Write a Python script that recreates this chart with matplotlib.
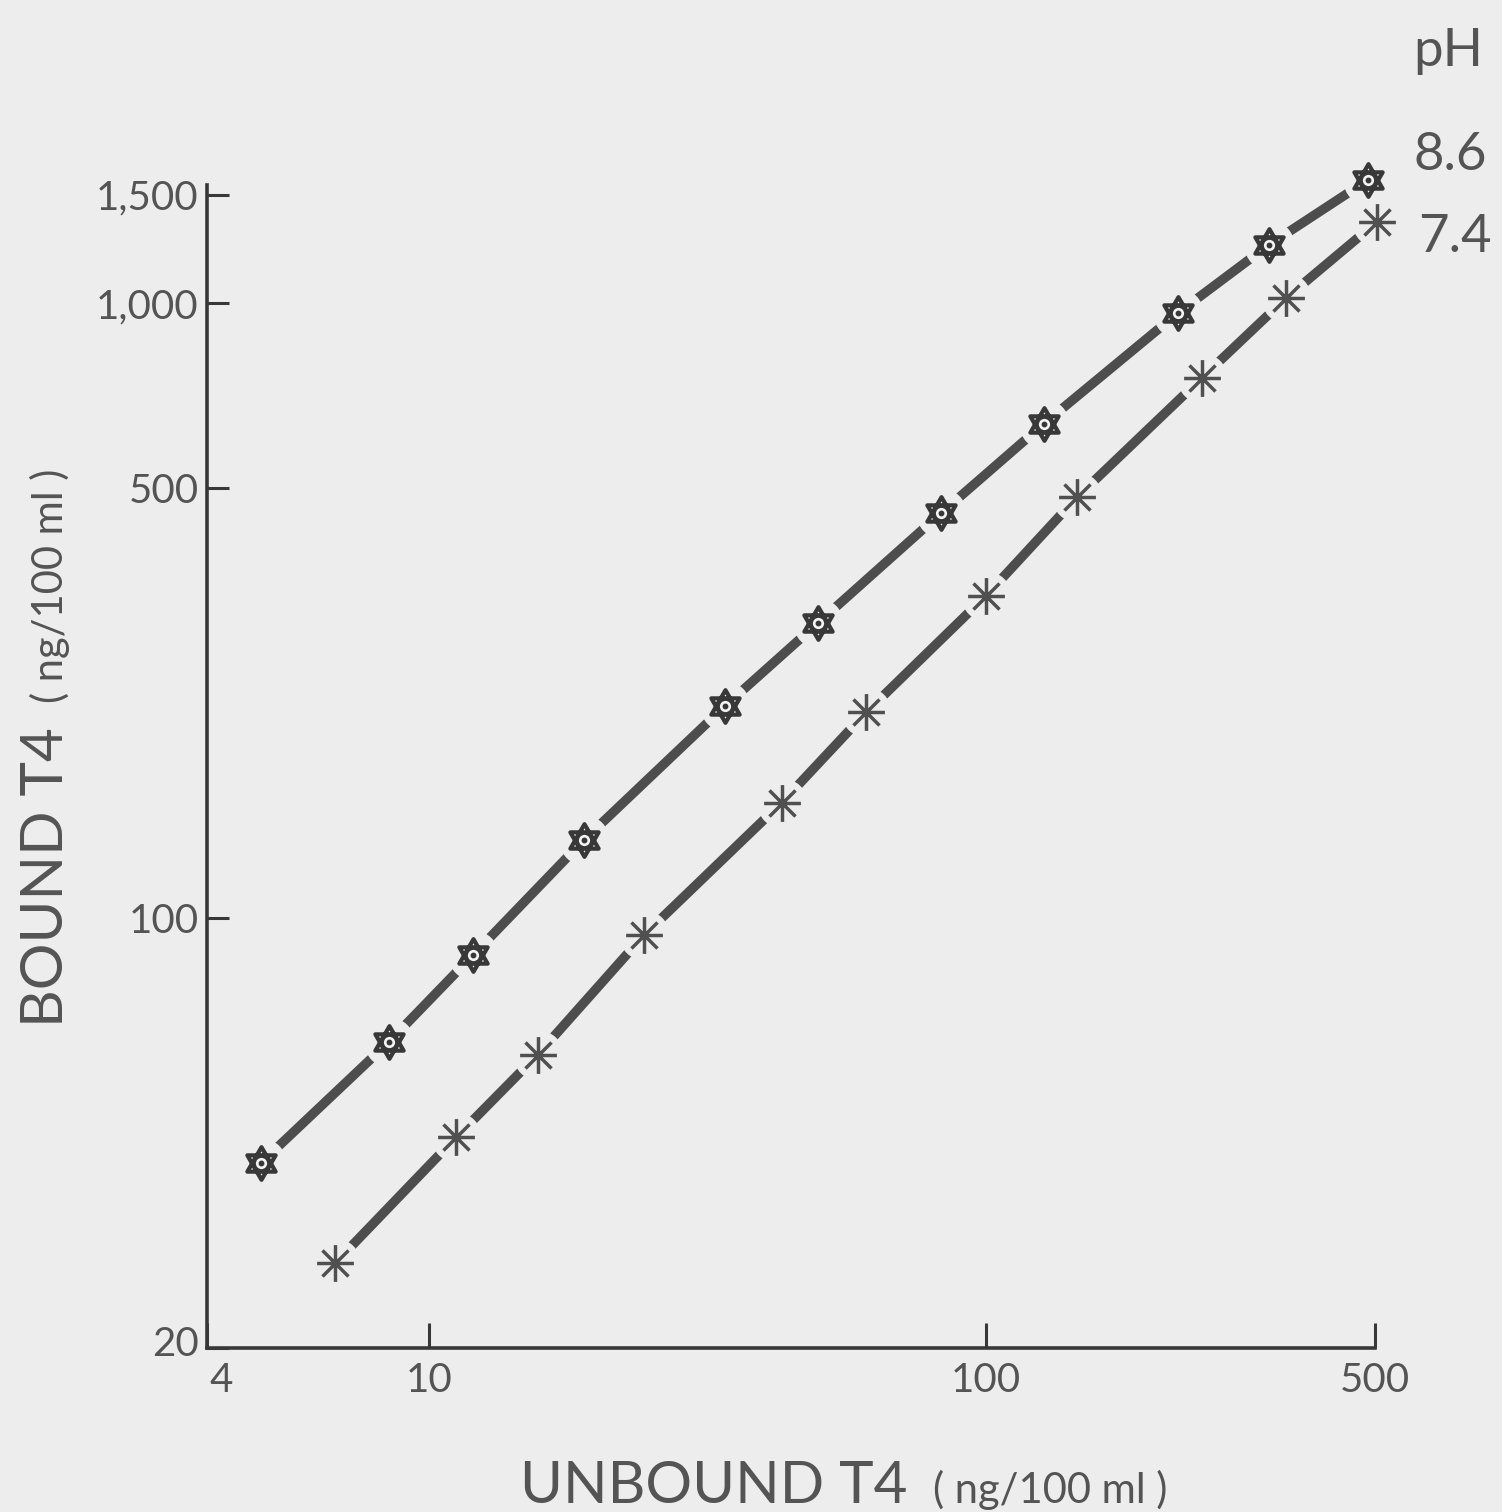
import numpy as np
import matplotlib
matplotlib.use("Agg")
import matplotlib.pyplot as plt
import matplotlib.transforms as mtransforms
from matplotlib.path import Path

# Unbound vs bound T4 (ng/100 ml) at two pH values
unbound_ph86 = [5.0, 8.5, 12, 19, 34, 50, 83, 127, 221, 322, 485]
bound_ph86 = [40, 63, 87, 134, 221, 302, 455, 636, 963, 1243, 1585]

unbound_ph74 = [6.8, 11.2, 15.7, 24.4, 43, 61, 100, 146, 244, 346, 503]
bound_ph74 = [27.5, 44, 60, 94, 154, 216, 334, 484, 755, 1019, 1354]

series_labels = ["8.6", "7.4"]
x_ticks = [4, 10, 100, 500]
x_tick_labels = ["4", "10", "100", "500"]
y_ticks = [20, 100, 500, 1000, 1500]
y_tick_labels = ["20", "100", "500", "1,000", "1,500"]

BG = "#ededed"
INK = "#383838"
TXT = "#545454"
LINE = "#4d4d4d"
FONT = ["Lato", "DejaVu Sans"]

plt.rcParams["font.family"] = FONT

# Star of David outline: two overlapping triangles
a = np.deg2rad([90, 210, 330])
up = np.column_stack([np.cos(a), np.sin(a)])
down = -up
hex_verts = np.vstack([up, up[:1], down, down[:1]])
hex_codes = [Path.MOVETO, Path.LINETO, Path.LINETO, Path.CLOSEPOLY] * 2
hexagram = Path(hex_verts, hex_codes)

# Eight-spoke asterisk
ang = np.deg2rad([0, 45, 90, 135])
ast_verts = []
ast_codes = []
for t in ang:
    ast_verts += [(np.cos(t), np.sin(t)), (-np.cos(t), -np.sin(t))]
    ast_codes += [Path.MOVETO, Path.LINETO]
asterisk = Path(np.array(ast_verts), ast_codes)

fig = plt.figure(figsize=(15.02, 15.12), dpi=100, facecolor=BG)
ax = fig.add_axes([0.1378, 0.1085, 0.9155 - 0.1378, 0.8776 - 0.1085])
ax.set_facecolor(BG)
ax.set_xscale("log")
ax.set_yscale("log")
ax.set_xlim(4, 500)
ax.set_ylim(20, 1556)

for x, y in [(unbound_ph86, bound_ph86), (unbound_ph74, bound_ph74)]:
    ax.plot(x, y, color=LINE, lw=6.8, solid_capstyle="butt", zorder=2,
            clip_on=False)
    # clear a gap in the line around every point
    ax.plot(x, y, ls="none", marker="o", ms=36, mfc=BG, mec="none",
            zorder=3, clip_on=False)

# pH 8.6 markers
ax.plot(unbound_ph86, bound_ph86, ls="none", marker=hexagram, ms=23.5,
        mfc="none", mec=INK, mew=3.0, zorder=4, clip_on=False)
ax.plot(unbound_ph86, bound_ph86, ls="none", marker="o", ms=10.5,
        mfc="#f4f4f4", mec=INK, mew=2.4, zorder=5, clip_on=False)
ax.plot(unbound_ph86, bound_ph86, ls="none", marker="o", ms=3.2,
        mfc=INK, mec=INK, zorder=6, clip_on=False)

# pH 7.4 markers
ax.plot(unbound_ph74, bound_ph74, ls="none", marker=asterisk, ms=26.5,
        mfc="none", mec="#505050", mew=2.5, zorder=4, clip_on=False)

for s in ["top", "right"]:
    ax.spines[s].set_visible(False)
for s in ["left", "bottom"]:
    ax.spines[s].set_linewidth(2.6)
    ax.spines[s].set_color(INK)

ax.minorticks_off()
ax.set_xticks(x_ticks)
ax.set_xticklabels(x_tick_labels)
ax.set_yticks(y_ticks)
ax.set_yticklabels(y_tick_labels)
ax.tick_params(axis="both", which="major", direction="in", width=2.2,
               color=INK, labelcolor=TXT, labelsize=29)
ax.tick_params(axis="x", length=18, pad=10)
ax.tick_params(axis="y", length=16, pad=6)

# nudge the corner labels away from the axis origin
first_x = ax.get_xticklabels()[0]
first_x.set_transform(first_x.get_transform() +
                      mtransforms.ScaledTranslation(14 / 100, 0,
                                                    fig.dpi_scale_trans))
first_y = ax.get_yticklabels()[0]
first_y.set_transform(first_y.get_transform() +
                      mtransforms.ScaledTranslation(0, 7 / 100,
                                                    fig.dpi_scale_trans))

W, H = 1502, 1512

def fx(px):
    return px / W

def fy(py):
    return 1 - py / H

renderer = fig.canvas.get_renderer()

# x-axis title: large name followed by the smaller unit
xt = fig.text(fx(520), fy(1503), "UNBOUND T4", ha="left", va="baseline",
              fontsize=42, color=TXT)
xb = xt.get_window_extent(renderer)
fig.text(fx(xb.x1 + 26), fy(1503), "( ng/100 ml )", ha="left",
         va="baseline", fontsize=30, color=TXT)

# y-axis title, read bottom to top
yt = fig.text(fx(63), fy(1027), "BOUND T4", rotation=90,
              rotation_mode="anchor", ha="left", va="baseline",
              fontsize=42, color=TXT)
yb = yt.get_window_extent(renderer)
fig.text(fx(63), (yb.y1 + 24) / H, "( ng/100 ml )", rotation=90,
         rotation_mode="anchor", ha="left", va="baseline", fontsize=30,
         color=TXT)

# series key at the right-hand end of the curves
fig.text(fx(1413), fy(66), "pH", ha="left", va="baseline", fontsize=38,
         color=TXT)
fig.text(fx(1413), fy(170), series_labels[0], ha="left", va="baseline",
         fontsize=38, color=TXT)
fig.text(fx(1418), fy(252), series_labels[1], ha="left", va="baseline",
         fontsize=38, color=TXT)

fig.savefig("out.png", dpi=100, facecolor=BG)
